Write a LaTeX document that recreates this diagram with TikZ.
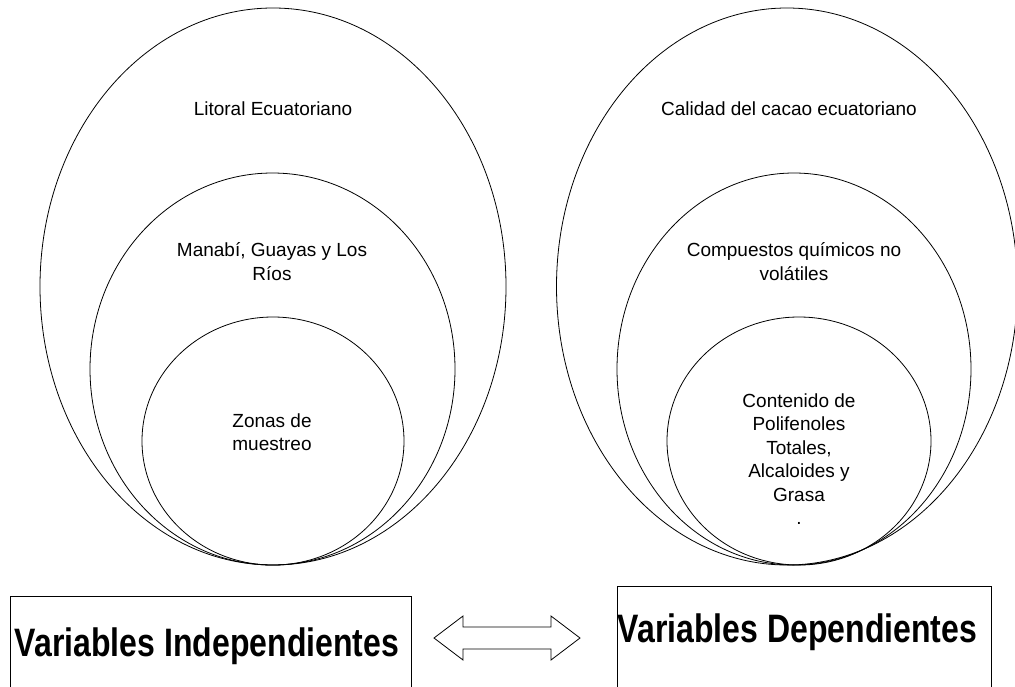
\documentclass[tikz,border=0pt]{standalone}
\usepackage{fontspec}
\setmainfont{Liberation Sans}
\usepackage{graphicx}
\usepackage{tikz}
\usetikzlibrary{shapes.geometric}

\begin{document}
\begin{tikzpicture}[x=1pt, y=-1pt,
  ring/.style={draw, ellipse, inner sep=0pt, line width=0.8pt},
  txt/.style={align=center, inner sep=0pt, font=\fontsize{19}{23.5}\selectfont},
  varbox/.style={draw, line width=0.9pt, inner sep=0pt, anchor=north west},
  big/.style={anchor=base, inner sep=0pt}]
  \useasboundingbox (0,0) rectangle (1015,686);

  \node[ring, minimum width=466pt, minimum height=557pt] (lout) at (273,286.5) {};
  \node[ring, minimum width=365pt, minimum height=392pt] (lmid) at (272.5,369) {};
  \node[ring, minimum width=262pt, minimum height=248pt] (lin) at (273,441) {};
  \node[txt] (litoral) at (273,109) {Litoral Ecuatoriano};
  \node[txt] (prov) at (272,261.5) {Manabí, Guayas y Los\\Ríos};
  \node[txt] (zonas) at (272,432) {Zonas de\\muestreo};

  \node[ring, minimum width=461pt, minimum height=557pt] (rout) at (787,286.5) {};
  \node[ring, minimum width=354pt, minimum height=392pt] (rmid) at (794,369) {};
  \node[ring, minimum width=264pt, minimum height=248pt] (rin) at (799,441) {};
  \node[txt] (calidad) at (789,109) {Calidad del cacao ecuatoriano};
  \node[txt] (quim) at (794,261.5) {Compuestos químicos no\\volátiles};
  \node[txt] (cont) at (799,459) {Contenido de\\Polifenoles\\Totales,\\Alcaloides y\\Grasa\\.};

  \node[varbox, minimum width=401pt, minimum height=120pt] (vi) at (10,596) {};
  \node[varbox, minimum width=374pt, minimum height=130pt] (vd) at (617,586) {};
  \node[big] (indep) at (207,656) {\scalebox{1}[1.24]{\fontsize{32}{38}\selectfont\bfseries Variables Independientes}};
  \node[big] (dep) at (797.5,642) {\scalebox{1}[1.24]{\fontsize{32}{38}\selectfont\bfseries Variables Dependientes}};

  \coordinate (dbl) at (507,638);
  \draw[line width=0.8pt, shift={(dbl)}] (-73,0) -- (-44,-22) -- (-44,-11) -- (44,-11) -- (44,-22)
    -- (73,0) -- (44,22) -- (44,11) -- (-44,11) -- (-44,22) -- cycle;
\end{tikzpicture}
\end{document}
